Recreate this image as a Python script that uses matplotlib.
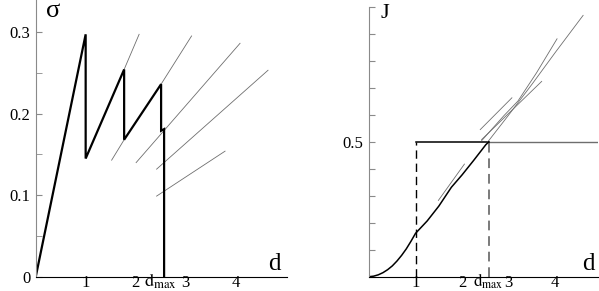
import matplotlib
matplotlib.use('Agg')
import matplotlib.pyplot as plt
from matplotlib.transforms import blended_transform_factory

plt.rcParams['font.family'] = ['Liberation Serif', 'DejaVu Serif']
plt.rcParams['mathtext.fontset'] = 'stix'

d_max = 2.57
x_ticks = [1, 2, 3, 4]

# stress - displacement path (thick)
path_d = [0, 1.0, 1.0, 1.77, 1.77, 2.51, 2.51, 2.57, 2.57]
path_sigma = [0, 0.297, 0.145, 0.254, 0.168, 0.236, 0.179, 0.181, 0]

# grey extensions of the linear branches
branch_d = [(1.77, 2.07), (1.52, 1.77), (2.51, 3.12), (2.01, 4.09), (2.42, 4.65), (2.42, 3.79)]
branch_sigma = [(0.254, 0.297), (0.143, 0.168), (0.236, 0.295), (0.140, 0.286), (0.132, 0.253), (0.099, 0.154)]

# energy J(d) (thick)
energy_d = [0, 0.1, 0.2, 0.3, 0.4, 0.5, 0.6, 0.7, 0.8, 0.9, 1.0, 1.25, 1.5, 1.77, 2.0, 2.25, 2.51, 2.57]
energy_J = [0, 0.002, 0.007, 0.015, 0.026, 0.040, 0.058, 0.079, 0.103, 0.131, 0.161, 0.207, 0.262,
            0.332, 0.378, 0.432, 0.490, 0.50]

# grey energy curves of the other branches
energy_branch_d = [
    [1.49, 2.05],
    [2.39, 3.07],
    [2.42, 3.71],
    [2.42, 2.9, 3.2, 3.6, 4.04],
    [2.55, 3.0, 3.5, 4.0, 4.6],
]
energy_branch_J = [
    [0.283, 0.418],
    [0.546, 0.664],
    [0.509, 0.725],
    [0.505, 0.598, 0.652, 0.757, 0.883],
    [0.50, 0.60, 0.714, 0.832, 0.97],
]

J_level = 0.5

W, H = 599, 291
fig = plt.figure(figsize=(W / 100, H / 100), dpi=100)
ax1 = fig.add_axes([35.7 / W, 14 / H, 251.3 / W, 277 / H])
ax2 = fig.add_axes([369 / W, 14.3 / H, 229 / W, 269.4 / H])


def style_axes(ax):
    for side in ('top', 'right'):
        ax.spines[side].set_visible(False)
    ax.spines['left'].set_color('#8a8a8a')
    ax.spines['left'].set_linewidth(0.8)
    ax.spines['bottom'].set_color('black')
    ax.spines['bottom'].set_linewidth(0.8)
    ax.tick_params(axis='y', which='both', direction='in', length=4, color='#8a8a8a',
                   labelsize=12, pad=4)
    ax.set_xticks([])


def x_labels(ax, dmax_x, dmax_size):
    trans = blended_transform_factory(ax.transData, fig.transFigure)
    base = 1 - 287 / H
    for t in x_ticks:
        ax.text(t, base, str(t), transform=trans, ha='center', va='baseline', fontsize=12)
    ax.text(dmax_x, base, r'$\mathrm{d}_{\mathrm{max}}$', transform=trans,
            ha='center', va='baseline', fontsize=dmax_size)


# left panel: sigma(d)
for bd, bs in zip(branch_d, branch_sigma):
    ax1.plot(bd, bs, color='#6e6e6e', lw=0.6)
ax1.plot(path_d, path_sigma, color='black', lw=1.6, solid_joinstyle='miter')
ax1.set_xlim(0, 5.03)
ax1.set_ylim(0, 0.339)
style_axes(ax1)
ax1.set_yticks([0, 0.1, 0.2, 0.3])
ax1.set_yticklabels(['0', '0.1', '0.2', '0.3'])
ax1.set_yticks([0.05, 0.15, 0.25], minor=True)
x_labels(ax1, d_max - 0.08, 13)

# right panel: J(d)
ax2.plot([1, 1], [0, J_level], color='black', lw=1.0, dashes=(6, 3.5))
ax2.plot([d_max, d_max], [0, J_level], color='#7a7a7a', lw=1.4, dashes=(5, 3))
ax2.plot([d_max, 4.92], [J_level, J_level], color='#6e6e6e', lw=1.0)
ax2.plot([1, d_max], [J_level, J_level], color='black', lw=1.1)
for bd, bj in zip(energy_branch_d, energy_branch_J):
    ax2.plot(bd, bj, color='#6e6e6e', lw=0.6)
ax2.plot(energy_d, energy_J, color='black', lw=1.1)
ax2.set_xlim(0, 4.92)
ax2.set_ylim(0, 1.0)
style_axes(ax2)
ax2.set_yticks([i / 10 for i in range(11)])
ax2.set_yticklabels(['0.5' if i == 5 else '' for i in range(11)])
x_labels(ax2, d_max, 12)

# axis names
fig.text(53 / W, 1 - 11 / H, '\u03c3', ha='center', va='center', fontsize=19)
fig.text(274 / W, 1 - 264 / H, 'd', ha='center', va='center', fontsize=18)
fig.text(385 / W, 1 - 13 / H, 'J', ha='center', va='center', fontsize=16)
fig.text(588 / W, 1 - 264 / H, 'd', ha='center', va='center', fontsize=18)

fig.savefig('out.png', dpi=100)
